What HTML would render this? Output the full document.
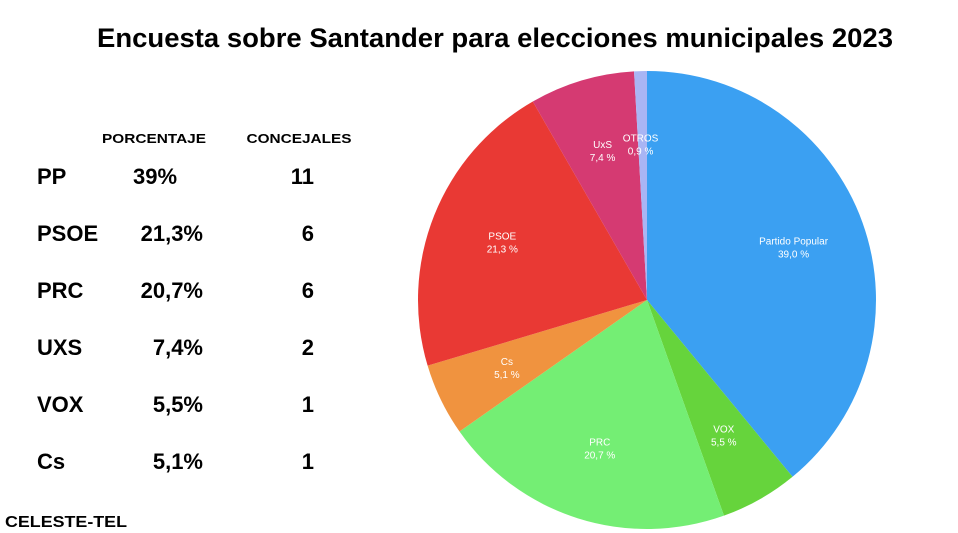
<!DOCTYPE html>
<html><head><meta charset="utf-8"><style>
body{margin:0;background:#fff;width:958px;height:533px;overflow:hidden;font-family:"Liberation Sans",Arial,sans-serif}
svg{position:absolute;left:0;top:0}
</style></head><body>
<svg width="958" height="533">
<text x="495" y="47" text-anchor="middle" font-size="27" font-weight="bold" fill="#000" textLength="796" lengthAdjust="spacingAndGlyphs">Encuesta sobre Santander para elecciones municipales 2023</text>
<g id="table"></g>
<text x="5" y="527" font-size="16" font-weight="bold" textLength="122" lengthAdjust="spacingAndGlyphs">CELESTE-TEL</text>
<g id="pie"></g>
</svg>
<script>
const parties=["Partido Popular","VOX","PRC","Cs","PSOE","UxS","OTROS"];
const shares=[39.0,5.5,20.7,5.1,21.3,7.4,0.9];
const colors=["#3ba0f2","#66d43c","#74ee74","#f0933f","#e93934","#d53a72","#a9b5f4"];
const rowNames=["PP","PSOE","PRC","UXS","VOX","Cs"];
const rowPct=["39%","21,3%","20,7%","7,4%","5,5%","5,1%"];
const rowSeats=["11","6","6","2","1","1"];
const NS="http://www.w3.org/2000/svg";
function mk(t,a,p){const e=document.createElementNS(NS,t);for(const k in a)e.setAttribute(k,a[k]);p.appendChild(e);return e;}
const tb=document.getElementById('table');
let h1=mk('text',{x:154,y:143,'text-anchor':'middle','font-size':13,'font-weight':'bold',textLength:104,lengthAdjust:'spacingAndGlyphs'},tb);h1.textContent="PORCENTAJE";


let h2=mk('text',{x:299,y:143,'text-anchor':'middle','font-size':13,'font-weight':'bold',textLength:105,lengthAdjust:'spacingAndGlyphs'},tb);h2.textContent="CONCEJALES";


rowNames.forEach((n,i)=>{
 const y=184+i*57;
 let a=mk('text',{x:37,y:y,'font-size':22,'font-weight':'bold'},tb);a.textContent=n;
 
 
 let b=mk('text',i===0?{x:133,y:y,'font-size':22,'font-weight':'bold'}:{x:203,y:y,'text-anchor':'end','font-size':22,'font-weight':'bold'},tb);b.textContent=rowPct[i];
 
 
 let c=mk('text',{x:314,y:y,'text-anchor':'end','font-size':22,'font-weight':'bold'},tb);c.textContent=rowSeats[i];
 
 
});
const pie=document.getElementById('pie');
const cx=647,cy=300,r=229;
const total=shares.reduce((s,v)=>s+v,0);
function pt(a,rr){return [cx+rr*Math.sin(a),cy-rr*Math.cos(a)];}
let ang=0;
shares.forEach((v,i)=>{
 const a0=ang,a1=ang+v/total*2*Math.PI;ang=a1;
 const p0=pt(a0,r),p1=pt(a1,r);
 const large=(a1-a0)>Math.PI?1:0;
 const path=mk('path',{d:`M${cx},${cy}L${p0[0]},${p0[1]}A${r},${r} 0 ${large} 1 ${p1[0]},${p1[1]}Z`,fill:colors[i]},pie);
 
 
});
ang=0;
shares.forEach((v,i)=>{
 const a0=ang,a1=ang+v/total*2*Math.PI;ang=a1;
 const m=(a0+a1)/2;
 let p=pt(m,0.68*r);
 if(i===6)p=[p[0]-2,p[1]];
 const t=mk('text',{x:p[0],y:p[1]-3,'text-anchor':'middle','font-size':10,fill:'#fff'},pie);
 t.textContent=parties[i];
 
 
 const t2=mk('text',{x:p[0],y:p[1]+10,'text-anchor':'middle','font-size':10,fill:'#fff'},pie);
 t2.textContent=v.toFixed(1).replace('.',',')+" %";
 
 
});
</script>
</body></html>
